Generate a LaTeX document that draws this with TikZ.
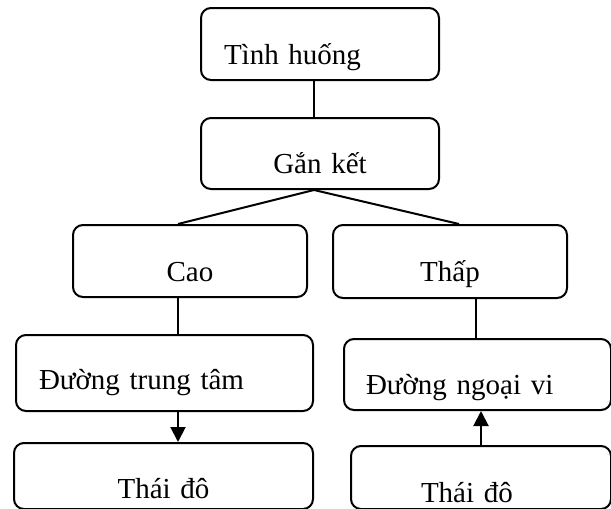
\documentclass[tikz,border=0pt]{standalone}
\usepackage{fontspec}
\setmainfont{Liberation Serif}
\usetikzlibrary{arrows.meta}

\begin{document}
\begin{tikzpicture}[> = {Triangle[length=15pt, width=15pt]}, % arrow head style
                x = 1pt, y = -1pt, % pixel units, y going down
                line width = 2pt % line style
            ]

            \tikzstyle{every node}=[draw = black, rounded corners = 10pt,
            anchor = north west, inner sep = 0pt,
            font = \fontsize{29}{34}\selectfont]

            \useasboundingbox (0,0) rectangle (611,509);

            \node (1) at (200,7) [text width = 192pt, inner xsep = 23pt,
                align = left, text height = 56pt, text depth = 16pt]
            {Tình huống}; \node (2) at (200,117) [text width = 238pt, align =
                center, text height = 55pt, text depth = 16pt] {Gắn kết};
            \node (3) at (72,224) [text width = 234pt, align = center, text
                height = 56pt, text depth = 16pt] {Cao}; \node (4) at
            (332,224) [text width = 234pt, align = center, text height =
                56pt, text depth = 17pt] {Thấp}; \node (5) at (15,334) [text
                width = 251pt, inner xsep = 23pt, align = left, text height =
                54pt, text depth = 22pt] {Đường trung tâm}; \node (6) at
            (13,442) [text width = 299pt, align = center, text height = 55pt,
                text depth = 11pt] {Thái đô}; \node (7) at (343,338) [text
                width = 223pt, inner xsep = 22pt, align = left, text height =
                55pt, text depth = 16pt] {Đường ngoại vi}; \node (8) at
            (350,445) [text width = 120pt, inner xsep = 70pt, align = left,
                text height = 56pt, text depth = 7pt] {Thái đô};

            \draw ([xshift=-6pt]1.south) -- ([xshift=-6pt]1.south |- 2.north);
            \draw ([xshift=-6pt]2.south) -- ([xshift=-12pt]3.north); \draw
            ([xshift=-6pt]2.south) -- ([xshift=9pt]4.north); \draw
            ([xshift=-12pt]3.south) -- ([xshift=-12pt]3.south |- 5.north);
            \draw[->] ([xshift=-12pt]3.south |- 5.south) --
            ([xshift=-12pt]3.south |- 6.north); \draw ([xshift=26pt]4.south)
            -- ([xshift=26pt]4.south |- 7.north); \draw[->] (8.north) --
            (8.north |- 7.south); \end{tikzpicture}
\end{document}
